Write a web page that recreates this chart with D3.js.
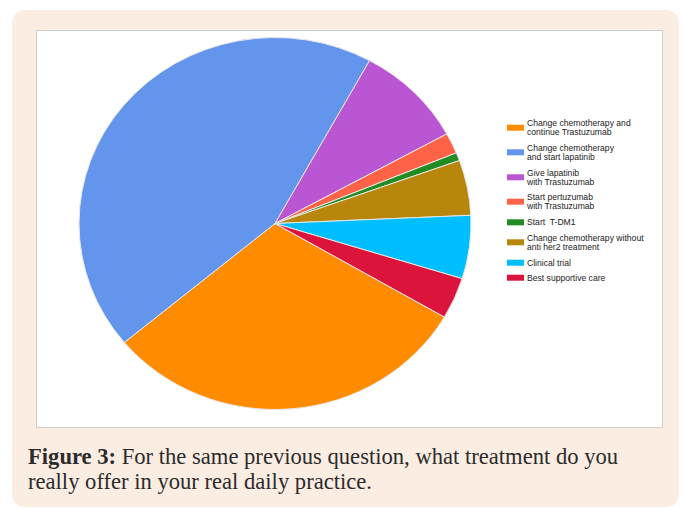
<!DOCTYPE html>
<html>
<head>
<meta charset="utf-8">
<script src="https://cdnjs.cloudflare.com/ajax/libs/d3/7.8.5/d3.min.js"></script>
<style>
  html, body { margin: 0; padding: 0; background: #fff; }
  svg { display: block; }
  text { white-space: pre; }
</style>
</head>
<body>
<svg id="chart" width="685" height="509"></svg>
<script>
// chart data (share of answers, %)
const categories = [
    'Change chemotherapy and\ncontinue Trastuzumab',
    'Change chemotherapy\nand start lapatinib',
    'Give lapatinib\nwith Trastuzumab',
    'Start pertuzumab\nwith Trastuzumab',
    'Start  T-DM1',
    'Change chemotherapy without\nanti her2 treatment',
    'Clinical trial',
    'Best supportive care'
];
const values = [30.6, 44.1, 9.0, 1.8, 0.7, 4.8, 5.5, 3.6];
const colors = ['#FF8C00', '#6495ED', '#BA55D3', '#FF6347', '#228B22', '#B8860B', '#00BFFF', '#DC143C'];
const captionLines = [
    { bold: 'Figure 3:', rest: ' For the same previous question, what treatment do you' },
    { bold: '', rest: 'really offer in your real daily practice.' }
];

const data = categories.map((c, i) => ({ label: c, value: values[i], color: colors[i] }));

const svg = d3.select('#chart');

// peach card + white plot box
svg.append('rect')
    .attr('x', 12).attr('y', 10)
    .attr('width', 667).attr('height', 497)
    .attr('rx', 13)
    .attr('fill', '#FCEDE3');

svg.append('rect')
    .attr('x', 36.5).attr('y', 30.5)
    .attr('width', 626).attr('height', 397)
    .attr('fill', '#fff')
    .attr('stroke', '#cfcfcf');

// pie (slightly stretched horizontally like the original image)
const cx = 275, cy = 223.5, ry = 186, rx = 196;
const deg = Math.PI / 180;
const pie = d3.pie().sort(null).value(d => d.value)
    .startAngle(120.2 * deg).endAngle(120.2 * deg + 2 * Math.PI);
const arc = d3.arc().innerRadius(0).outerRadius(ry);

const g = svg.append('g')
    .attr('transform', `translate(${cx},${cy}) scale(${rx / ry},1)`);

g.selectAll('path')
    .data(pie(data))
    .join('path')
    .attr('d', arc)
    .attr('fill', d => d.data.color)
    .attr('stroke', '#e8e8e8')
    .attr('stroke-width', 1)
    .attr('vector-effect', 'non-scaling-stroke');

// legend
const legendX = 507, textX = 527, lineH = 8.7;
const swatchY = [127.7, 152.3, 177.3, 201.7, 222.3, 242.3, 262.7, 277.7];
const legend = svg.append('g');

data.forEach((d, i) => {
    const lines = d.label.split('\n');
    const item = legend.append('g');
    item.append('rect')
        .attr('x', legendX).attr('y', swatchY[i] - 3)
        .attr('width', 17).attr('height', 6)
        .attr('fill', d.color);
    const t = item.append('text')
        .attr('x', textX)
        .attr('font-family', '"Liberation Sans", Arial, sans-serif')
        .attr('font-size', 8.6)
        .attr('fill', '#222');
    lines.forEach((ln, j) => {
        t.append('tspan')
            .attr('x', textX)
            .attr('y', swatchY[i] + (j - (lines.length - 1) / 2) * lineH + 3)
            .text(ln);
    });
});

// caption
const cap = svg.append('g')
    .attr('font-family', '"Liberation Serif", "DejaVu Serif", serif')
    .attr('font-size', 22.6)
    .attr('fill', '#2b2b2b');

captionLines.forEach((c, i) => {
    const t = cap.append('text').attr('x', 28).attr('y', 464 + i * 25);
    if (c.bold) t.append('tspan').attr('font-weight', 'bold').text(c.bold);
    t.append('tspan').text(c.rest);
});
</script>
</body>
</html>
